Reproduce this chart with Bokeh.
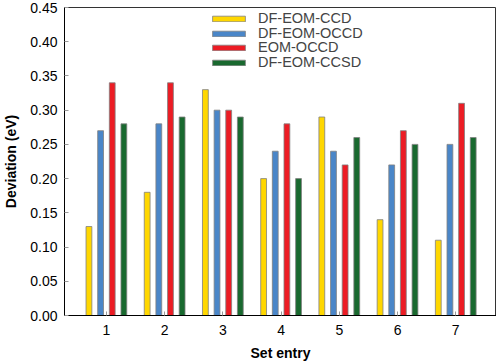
from bokeh.plotting import figure
from bokeh.models import ColumnDataSource, FixedTicker, Legend, LegendItem, CustomJSTickFormatter
from bokeh.transform import dodge
from bokeh.embed import file_html
from bokeh.resources import INLINE

entries = [1, 2, 3, 4, 5, 6, 7]
series_names = ["DF-EOM-CCD", "DF-EOM-OCCD", "EOM-OCCD", "DF-EOM-CCSD"]
df_eom_ccd = [0.13, 0.18, 0.33, 0.20, 0.29, 0.14, 0.11]
df_eom_occd = [0.27, 0.28, 0.30, 0.24, 0.24, 0.22, 0.25]
eom_occd = [0.34, 0.34, 0.30, 0.28, 0.22, 0.27, 0.31]
df_eom_ccsd = [0.28, 0.29, 0.29, 0.20, 0.26, 0.25, 0.26]
y_ticks = [0.00, 0.05, 0.10, 0.15, 0.20, 0.25, 0.30, 0.35, 0.40, 0.45]

colors = ["#FFD700", "#4A86C8", "#EC1C24", "#19692F"]
offsets = [-0.3, -0.1, 0.1, 0.3]
legend_rows_y = [289, 274, 260, 245]

src = ColumnDataSource(dict(x=entries, a=df_eom_ccd, b=df_eom_occd,
                            c=eom_occd, d=df_eom_ccsd))

FONT = "Liberation Sans"

p = figure(output_backend="svg", toolbar_location=None,
           x_range=(0.28, 7.7), y_range=(0, 0.45))
p.frame_width = 432
p.frame_height = 308
p.min_border_left = 0
p.min_border_right = 0
p.min_border_top = 7
p.min_border_bottom = 0
p.outline_line_color = "#333333"
p.outline_line_width = 1
p.grid.visible = False
p.background_fill_color = "white"
p.border_fill_color = "white"

renderers = []
for col, c, off in zip(["a", "b", "c", "d"], colors, offsets):
    r = p.vbar(x=dodge("x", off, range=p.x_range), top=col, width=0.1, source=src,
               fill_color=c, line_color="#808080", line_width=0.8)
    renderers.append(r)

for name, r, ly in zip(series_names, renderers, legend_rows_y):
    legend = Legend(items=[LegendItem(label=name, renderers=[r])], location=(144, ly))
    legend.glyph_width = 41
    legend.glyph_height = 7
    legend.label_height = 12
    legend.label_text_font = FONT
    legend.label_text_font_size = "14.5px"
    legend.spacing = 0
    legend.padding = 2
    legend.margin = 0
    legend.label_standoff = 9
    legend.border_line_color = None
    legend.background_fill_alpha = 0
    p.add_layout(legend)

p.xaxis.ticker = FixedTicker(ticks=entries)
p.yaxis.ticker = FixedTicker(ticks=y_ticks)
p.yaxis.formatter = CustomJSTickFormatter(code="return tick.toFixed(2);")

for ax in (p.xaxis, p.yaxis):
    ax.axis_line_color = "black"
    ax.axis_line_width = 1
    ax.major_tick_in = 4
    ax.major_tick_out = 0
    ax.major_tick_line_color = "#999999"
    ax.minor_tick_line_color = None
    ax.major_label_text_font = FONT
    ax.major_label_text_font_size = "14px"
    ax.major_label_text_color = "black"
    ax.axis_label_text_font = FONT
    ax.axis_label_text_font_size = "14px"
    ax.axis_label_text_font_style = "bold"
    ax.axis_label_text_color = "black"

p.xaxis.axis_label = "Set entry"
p.yaxis.axis_label = "Deviation (eV)"
p.xaxis.major_label_standoff = 9
p.xaxis.axis_label_standoff = 7
p.yaxis.major_label_standoff = 7
p.yaxis.axis_label_standoff = 8

open("out.html", "w").write(file_html(p, INLINE))
